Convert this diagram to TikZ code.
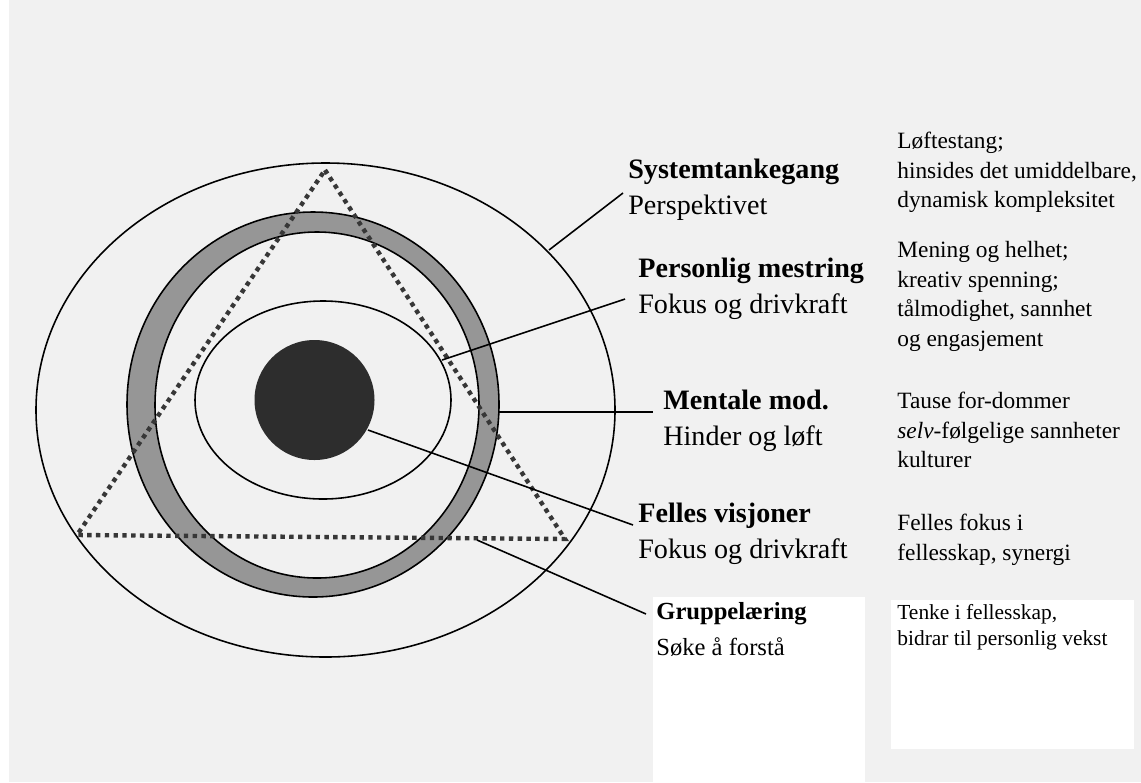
\documentclass[tikz,border=0pt]{standalone}
\usepackage{fontspec}
\setmainfont{Liberation Serif}
\definecolor{paper}{RGB}{241,241,241}
\definecolor{ringgray}{RGB}{150,150,150}
\definecolor{dotgray}{RGB}{55,55,55}
\definecolor{core}{RGB}{45,45,45}
\begin{document}
\begin{tikzpicture}[x = 0.02cm, y = -0.02cm,
	outline/.style = {line width = 0.9pt},
	link/.style = {line width = 0.9pt},
	dots/.style = {dotgray, line width = 2.5pt, dash pattern = on 2.5pt off 2.5pt},
	head/.style = {anchor = north west, inner sep = 0pt, align = left, font = \fontsize{16}{20}\selectfont},
	note/.style = {anchor = north west, inner sep = 0pt, align = left, font = \fontsize{13.3}{16.8}\selectfont}]
\useasboundingbox (0,0) rectangle (1141,782);
\fill[white] (0,0) rectangle (1141,782);
\fill[paper] (9,0) rectangle (1141,782);
\fill[white] (653,597) rectangle (865,782);
\fill[white] (891,600) rectangle (1134,749);
\draw[outline] (325.5,410) ellipse [x radius = 289.5, y radius = 247];
\fill[ringgray, even odd rule] (313,404.5) ellipse [x radius = 186, y radius = 192.5]
	(317,405) ellipse [x radius = 162, y radius = 173];
\draw[outline] (313,404.5) ellipse [x radius = 186, y radius = 192.5];
\draw[outline] (317,405) ellipse [x radius = 162, y radius = 173];
\draw[outline] (323,400) ellipse [x radius = 128, y radius = 99];
\fill[core] (314.5,400) circle [radius = 60];
\draw[dots] (325,170) -- (565,539) -- (77,535) -- cycle;
\node[head] (sys) at (628,159) {\textbf{Systemtankegang}\\Perspektivet};
\node[head] (pers) at (638,258) {\textbf{Personlig mestring}\\Fokus og drivkraft};
\node[head] (ment) at (663,390) {\textbf{Mentale mod.}\\Hinder og løft};
\node[head] (fell) at (638,503) {\textbf{Felles visjoner}\\Fokus og drivkraft};
\node[head, font = \fontsize{14}{20.5}\selectfont] (grup) at (656,602) {\textbf{Gruppelæring}\\Søke å forstå};
\node[note] (sysnote) at (897,132) {Løftestang;\\hinsides det umiddelbare,\\dynamisk kompleksitet};
\node[note] (persnote) at (897,241) {Mening og helhet;\\kreativ spenning;\\tålmodighet, sannhet\\og engasjement};
\node[note] (mentnote) at (897,392) {Tause for-dommer\\\textit{selv}-følgelige sannheter\\kulturer};
\node[note] (fellnote) at (897,514) {Felles fokus i\\fellesskap, synergi};
\node[note, font = \fontsize{12.2}{15}\selectfont] (grupnote) at (897,604) {Tenke i fellesskap,\\bidrar til personlig vekst};
\coordinate (sys-a) at (549,250);
\coordinate (sys-b) at (623,193);
\coordinate (pers-a) at (442,360);
\coordinate (pers-b) at (625,299);
\coordinate (ment-a) at (499,412);
\coordinate (ment-b) at (653,412);
\coordinate (fell-a) at (368,430);
\coordinate (fell-b) at (633,525);
\coordinate (grup-a) at (477,540);
\coordinate (grup-b) at (646,614);
\foreach \a in {sys, pers, ment, fell, grup}
	\draw[link] (\a-a) -- (\a-b);
\end{tikzpicture}
\end{document}
